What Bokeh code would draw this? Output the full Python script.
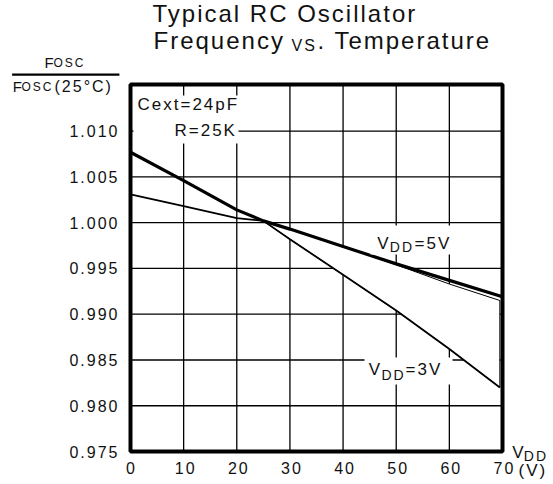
from bokeh.plotting import figure
from bokeh.models import (Label, BoxAnnotation, FixedTicker, LinearAxis,
                          InlineStyleSheet)
from bokeh.embed import file_html
from bokeh.resources import INLINE

# Temperature (deg C) and normalised oscillator frequency F/F(25C)
temps_5v = [0, 10, 20, 25, 30, 40, 50, 60, 70]
ratio_5v = [1.0077, 1.0046, 1.0014, 1.0002, 0.9993, 0.9974, 0.9955, 0.9937, 0.9919]
temps_3v = [0, 10, 20, 25, 30, 40, 50, 60, 69.5]
ratio_3v = [1.0031, 1.0018, 1.0005, 1.0002, 0.9982, 0.9943, 0.9904, 0.9862, 0.9820]

# upper edge of the spread region between the two supply curves
edge_t = [25, 30, 40, 50, 60, 69.5]
edge_r = [1.0002, 0.9993, 0.9974, 0.9954, 0.9933, 0.9915]

x_ticks = [0, 10, 20, 30, 40, 50, 60, 70]
y_ticks = [0.975, 0.980, 0.985, 0.990, 0.995, 1.000, 1.005, 1.010]
y_tick_labels = ["0.975", "0.980", "0.985", "0.990", "0.995", "1.000", "1.005", "1.010"]

XMIN, XMAX = 0, 70
YMIN, YMAX = 0.975, 1.0151

# canvas and the pixel box of the chart area inside it
W, H = 553, 484
PX0, PX1, PY0, PY1 = 130, 502, 84, 451
SX = (PX1 - PX0) / (XMAX - XMIN)
SY = (PY1 - PY0) / (YMAX - YMIN)
FONT = "Liberation Sans"
INK = "#111111"


def px_x(px):
    return XMIN + (px - PX0) / SX


def px_y(py):
    return YMIN + (PY1 - py) / SY


# the frame covers the whole canvas so that annotations around the chart
# area (title, quantity, unit) are not clipped
p = figure(width=W, height=H, output_backend="svg", toolbar_location=None,
           x_range=(px_x(0), px_x(W)), y_range=(px_y(H), px_y(0)),
           x_axis_location=None, y_axis_location=None, min_border=0)
p.title.visible = False
p.outline_line_color = None
p.background_fill_color = "white"
p.border_fill_color = "white"
p.xgrid.visible = False
p.ygrid.visible = False

yax = LinearAxis(fixed_location=XMIN, bounds=(YMIN, YMAX),
                 ticker=FixedTicker(ticks=y_ticks))
yax.major_label_overrides = {t: s for t, s in zip(y_ticks, y_tick_labels)}
yax.major_label_standoff = 21
xax = LinearAxis(fixed_location=YMIN, bounds=(XMIN, XMAX),
                 ticker=FixedTicker(ticks=x_ticks))
xax.major_label_standoff = 10
for ax in (xax, yax):
    ax.axis_line_color = None
    ax.major_tick_in = 0
    ax.major_tick_out = 0
    ax.minor_tick_line_color = None
    ax.major_label_text_font = FONT
    ax.major_label_text_font_size = "16px"
    ax.major_label_text_color = INK
p.add_layout(yax, "left")
p.add_layout(xax, "below")

# grid lines across the chart area only
p.segment(x0=x_ticks, y0=[YMIN] * len(x_ticks), x1=x_ticks, y1=[YMAX] * len(x_ticks),
          line_color="black", line_width=1.3)
p.segment(x0=[XMIN] * len(y_ticks), y0=y_ticks, x1=[XMAX] * len(y_ticks), y1=y_ticks,
          line_color="black", line_width=1.3)

# white spread region between the curves, thin outline
patch_x = edge_t + temps_3v[3:][::-1]
patch_y = edge_r + ratio_3v[3:][::-1]
p.patch(patch_x, patch_y, fill_color="white", line_color="black", line_width=1)

p.line(temps_3v, ratio_3v, line_color="black", line_width=1.8)
p.line(temps_5v, ratio_5v, line_color="black", line_width=3.2)

# heavy border of the chart area
p.quad(left=[XMIN], right=[XMAX], bottom=[YMIN], top=[YMAX],
       fill_color=None, line_color="black", line_width=4)


def box(x0, x1, y0, y1, color="white"):
    p.add_layout(BoxAnnotation(left=px_x(x0), right=px_x(x1),
                               top=px_y(y0), bottom=px_y(y1),
                               fill_color=color, fill_alpha=1.0,
                               line_color=None))


def text(s, x, y, size):
    p.add_layout(Label(x=px_x(x), y=px_y(y), text=s, text_font=FONT,
                       text_font_size=f"{size}px", text_color=INK,
                       text_align="left", text_baseline="alphabetic"))


# condition note
box(133, 238, 95, 143)
text("Cext=24pF", 137, 104, 17)
text("R=25K", 174, 130, 17)

# supply labels
box(370, 452, 225, 254)
text("V", 376.7, 242.5, 17)
text("DD", 389.3, 246.5, 14)
text("=5V", 414, 242.5, 17)

box(364, 452, 357, 384)
text("V", 368.3, 369, 17)
text("DD", 381, 374, 14)
text("=3V", 405, 369, 17)

# title
text("Typical RC Oscillator", 152, 12.5, 24)
text("Frequency", 153, 39.5, 24)
text("VS", 291, 44.5, 16)
text(". Temperature", 317, 39.5, 24)

# vertical axis quantity: Fosc / Fosc(25C)
text("F", 44, 62, 15)
text("OSC", 53, 62.5, 12)
box(11.6, 118.9, 73, 75.2, color="black")
text("F", 12.3, 86, 15)
text("OSC", 21, 86.5, 12)
text("(25°C)", 54, 86, 16)

# horizontal axis unit
text("V", 511.7, 451.7, 17)
text("DD", 523.3, 455, 14)
text("(V)", 518, 470, 17)

# tracked lettering, as in printed datasheet charts
css = ":host { letter-spacing: 2px; }"
p.stylesheets = [InlineStyleSheet(css=css)]

open("out.html", "w").write(file_html(p, INLINE))
